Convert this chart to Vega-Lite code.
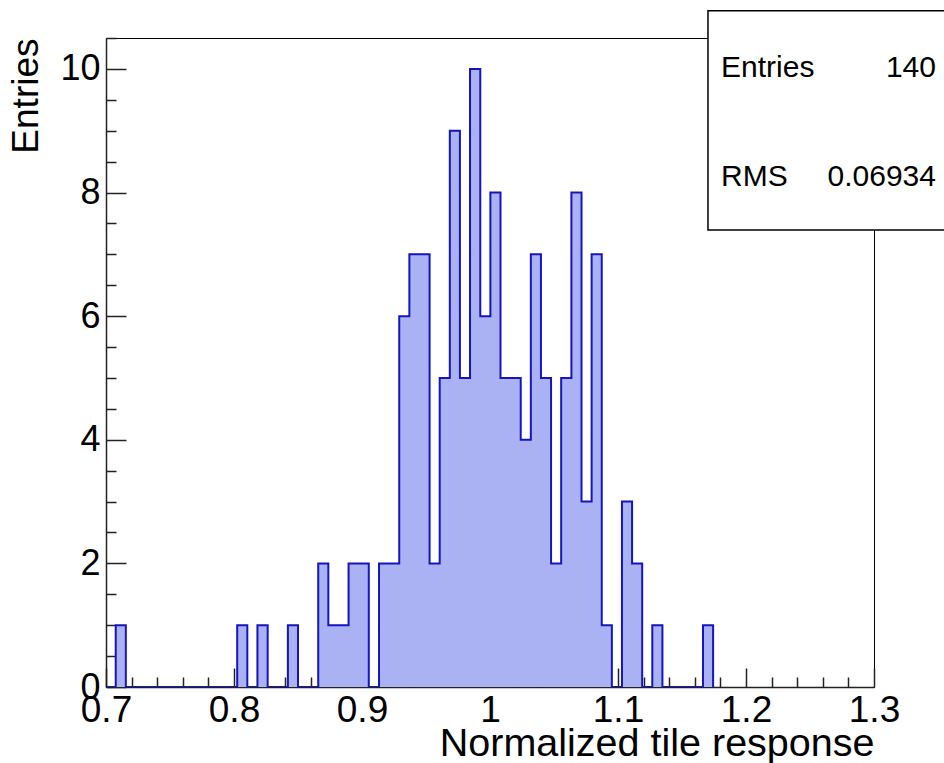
{
  "$schema": "https://vega.github.io/schema/vega-lite/v6.json",
  "width": 768,
  "height": 649,
  "autosize": {"type": "none"},
  "padding": {"left": 106, "top": 38, "right": 70, "bottom": 76},
  "background": "white",
  "config": {
    "view": {"stroke": "#000000", "strokeWidth": 1},
    "font": "Liberation Sans",
    "axis": {"grid": false, "labelColor": "#000000", "titleColor": "#000000", "domainColor": "#222222", "tickColor": "#222222", "domainWidth": 1.5, "tickWidth": 1.5, "zindex": 1}
  },
  "datasets": {
    "hist": [
      {"x": 0.6997, "count": 0}, {"x": 0.7076, "count": 1}, {"x": 0.7155, "count": 0}, {"x": 0.7234, "count": 0},
      {"x": 0.7313, "count": 0}, {"x": 0.7392, "count": 0}, {"x": 0.7472, "count": 0}, {"x": 0.7551, "count": 0},
      {"x": 0.7630, "count": 0}, {"x": 0.7709, "count": 0}, {"x": 0.7788, "count": 0}, {"x": 0.7867, "count": 0},
      {"x": 0.7946, "count": 0}, {"x": 0.8025, "count": 1}, {"x": 0.8104, "count": 0}, {"x": 0.8183, "count": 1},
      {"x": 0.8263, "count": 0}, {"x": 0.8342, "count": 0}, {"x": 0.8421, "count": 1}, {"x": 0.8500, "count": 0},
      {"x": 0.8579, "count": 0}, {"x": 0.8658, "count": 2}, {"x": 0.8737, "count": 1}, {"x": 0.8816, "count": 1},
      {"x": 0.8895, "count": 2}, {"x": 0.8974, "count": 2}, {"x": 0.9053, "count": 0}, {"x": 0.9133, "count": 2},
      {"x": 0.9212, "count": 2}, {"x": 0.9291, "count": 6}, {"x": 0.9370, "count": 7}, {"x": 0.9449, "count": 7},
      {"x": 0.9528, "count": 2}, {"x": 0.9607, "count": 5}, {"x": 0.9686, "count": 9}, {"x": 0.9765, "count": 5},
      {"x": 0.9844, "count": 10}, {"x": 0.9924, "count": 6}, {"x": 1.0003, "count": 8}, {"x": 1.0082, "count": 5},
      {"x": 1.0161, "count": 5}, {"x": 1.0240, "count": 4}, {"x": 1.0319, "count": 7}, {"x": 1.0398, "count": 5},
      {"x": 1.0477, "count": 2}, {"x": 1.0556, "count": 5}, {"x": 1.0636, "count": 8}, {"x": 1.0715, "count": 3},
      {"x": 1.0794, "count": 7}, {"x": 1.0873, "count": 1}, {"x": 1.0952, "count": 0}, {"x": 1.1031, "count": 3},
      {"x": 1.1110, "count": 2}, {"x": 1.1189, "count": 0}, {"x": 1.1268, "count": 1}, {"x": 1.1347, "count": 0},
      {"x": 1.1427, "count": 0}, {"x": 1.1506, "count": 0}, {"x": 1.1585, "count": 0}, {"x": 1.1664, "count": 1},
      {"x": 1.1743, "count": 0}
    ],
    "box": [{"x": 1.1703, "x2": 1.36, "y": 7.394, "y2": 10.94}],
    "labels": [
      {"x": 1.1805, "y": 9.874, "text": "Entries", "side": "left"},
      {"x": 1.3484, "y": 9.874, "text": "140", "side": "right"},
      {"x": 1.1805, "y": 8.105, "text": "RMS", "side": "left"},
      {"x": 1.3484, "y": 8.105, "text": "0.06934", "side": "right"}
    ]
  },
  "resolve": {"axis": {"x": "independent", "y": "independent"}},
  "layer": [
    {
      "data": {"name": "hist"},
      "mark": {"type": "area", "interpolate": "step-after", "color": "#abb2f4", "opacity": 1, "clip": true},
      "encoding": {
        "x": {"field": "x", "type": "quantitative", "scale": {"domain": [0.7, 1.3], "nice": false, "zero": false},
          "axis": {"orient": "bottom", "values": [0.7, 0.8, 0.9, 1.0, 1.1, 1.2, 1.3], "format": "~g", "tickSize": -19, "labelFontSize": 37, "labelPadding": 24, "labelFlush": false, "labelOverlap": false, "title": "Normalized tile response", "titleFontSize": 39.5, "titleFontWeight": "normal", "titleAnchor": "end", "titlePadding": -4}},
        "y": {"field": "count", "type": "quantitative", "scale": {"domain": [0, 10.5], "nice": false},
          "axis": {"orient": "left", "values": [0, 2, 4, 6, 8, 10], "tickSize": -20, "labelFontSize": 36, "labelPadding": 26, "labelFlush": false, "labelOverlap": false, "title": "Entries", "titleFontSize": 37, "titleFontWeight": "normal", "titleAnchor": "end", "titlePadding": 14}}
      }
    },
    {
      "data": {"name": "hist"},
      "mark": {"type": "line", "interpolate": "step-after", "color": "#1515c0", "strokeWidth": 2, "clip": true},
      "encoding": {
        "x": {"field": "x", "type": "quantitative",
          "axis": {"orient": "bottom", "values": [0.72, 0.74, 0.76, 0.78, 0.82, 0.84, 0.86, 0.88, 0.92, 0.94, 0.96, 0.98, 1.02, 1.04, 1.06, 1.08, 1.12, 1.14, 1.16, 1.18, 1.22, 1.24, 1.26, 1.28], "tickSize": -10, "labels": false, "domain": false, "title": null}},
        "y": {"field": "count", "type": "quantitative",
          "axis": {"orient": "left", "values": [0.5, 1, 1.5, 2.5, 3, 3.5, 4.5, 5, 5.5, 6.5, 7, 7.5, 8.5, 9, 9.5, 10.5], "tickSize": -10, "labels": false, "domain": false, "title": null}}
      }
    },
    {
      "data": {"name": "box"},
      "mark": {"type": "rect", "fill": "white", "stroke": "#000000", "strokeWidth": 1.5},
      "encoding": {
        "x": {"field": "x", "type": "quantitative", "axis": null},
        "x2": {"field": "x2"},
        "y": {"field": "y", "type": "quantitative", "axis": null},
        "y2": {"field": "y2"}
      }
    },
    {
      "data": {"name": "labels"},
      "transform": [{"filter": "datum.side === 'left'"}],
      "mark": {"type": "text", "fontSize": 30, "baseline": "alphabetic", "align": "left", "color": "#000000"},
      "encoding": {
        "x": {"field": "x", "type": "quantitative", "axis": null},
        "y": {"field": "y", "type": "quantitative", "axis": null},
        "text": {"field": "text"}
      }
    },
    {
      "data": {"name": "labels"},
      "transform": [{"filter": "datum.side === 'right'"}],
      "mark": {"type": "text", "fontSize": 30, "baseline": "alphabetic", "align": "right", "color": "#000000"},
      "encoding": {
        "x": {"field": "x", "type": "quantitative", "axis": null},
        "y": {"field": "y", "type": "quantitative", "axis": null},
        "text": {"field": "text"}
      }
    }
  ]
}
